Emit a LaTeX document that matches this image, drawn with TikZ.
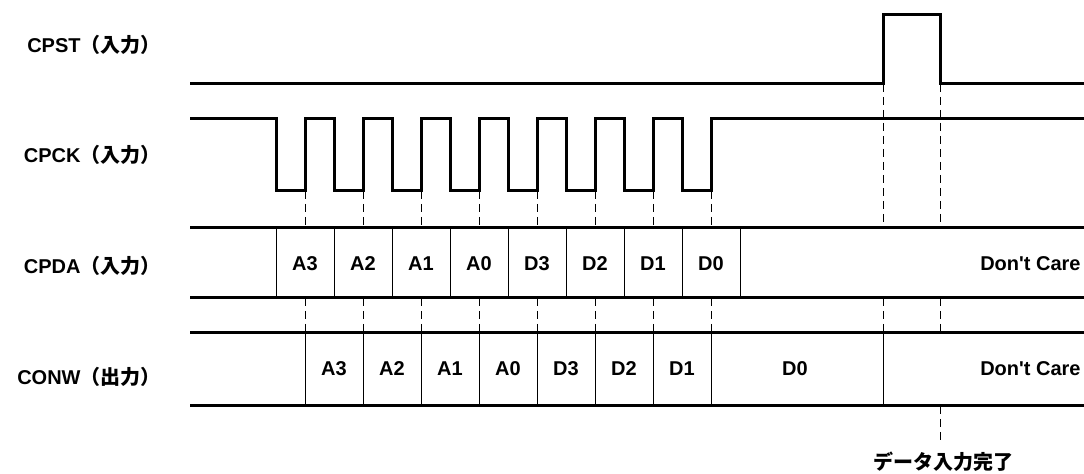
\documentclass[tikz,border=0pt]{standalone}
\usepackage{fontspec}
\setmainfont{Liberation Sans}
\newfontfamily\jpfont{Noto Sans CJK JP}
\begin{document}
\begin{tikzpicture}[x=0.5pt,y=-0.5pt,
  sig/.style={line width=1.5pt},
  cell/.style={line width=0.5pt},
  guide/.style={line width=0.5pt, dash pattern=on 4pt off 2.5pt},
  lbl/.style={anchor=east, inner sep=0pt, font=\bfseries\fontsize{10}{12}\selectfont},
  txt/.style={inner sep=0pt, font=\bfseries\fontsize{10}{12}\selectfont}]
  \useasboundingbox (0,0) rectangle (1084,474);
  % signal names
  \node[lbl] (cpst) at (161,45) {CPST{\jpfont（入力）}};
  \node[lbl] (cpck) at (161,155) {CPCK{\jpfont（入力）}};
  \node[lbl] (cpda) at (161,266) {CPDA{\jpfont（入力）}};
  \node[lbl] (conw) at (161,377) {CONW{\jpfont（出力）}};
  % CPST
  \draw[sig] (190,84) -- (883,84) -- (883,15) -- (940,15) -- (940,84) -- (1084,84);
  % CPCK
  \draw[sig] (190,119) \foreach \i in {0,...,7} {
      -- ({276+58*\i},119) -- ({276+58*\i},191) -- ({305+58*\i},191) -- ({305+58*\i},119)}
    -- (1084,119);
  % CPDA
  \draw[sig] (190,228) -- (1084,228);
  \draw[sig] (190,298) -- (1084,298);
  \foreach \i in {0,...,8} \draw[cell] ({276+58*\i},228) -- ({276+58*\i},298);
  \foreach \t [count=\i from 0] in {A3,A2,A1,A0,D3,D2,D1,D0}
    \node[txt] (da\i) at ({305+58*\i},264) {\t};
  \node[txt, anchor=east] (dacare) at (1081,264) {Don\textquotesingle t Care};
  % CONW
  \draw[sig] (190,333) -- (1084,333);
  \draw[sig] (190,406) -- (1084,406);
  \foreach \i in {0,...,7} \draw[cell] ({305+58*\i},333) -- ({305+58*\i},406);
  \draw[cell] (883,333) -- (883,406);
  \foreach \t [count=\i from 0] in {A3,A2,A1,A0,D3,D2,D1}
    \node[txt] (nw\i) at ({334+58*\i},369) {\t};
  \node[txt] (nwdzero) at (795,369) {D0};
  \node[txt, anchor=east] (nwcare) at (1081,369) {Don\textquotesingle t Care};
  % timing guides
  \foreach \i in {0,...,7} {
    \draw[guide] ({305+58*\i},191) -- ({305+58*\i},228);
    \draw[guide] ({305+58*\i},298) -- ({305+58*\i},333);
  }
  \foreach \x in {883,940} {
    \draw[guide] (\x,84) -- (\x,228);
    \draw[guide] (\x,298) -- (\x,333);
  }
  \node[txt, anchor=north] (done) at (943,452) {\jpfont データ入力完了};
  \draw[guide] (940,406) -- (940,443);
\end{tikzpicture}
\end{document}
